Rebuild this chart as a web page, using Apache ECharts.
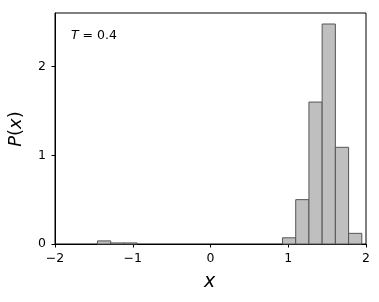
<!DOCTYPE html>
<html><head><meta charset="utf-8">
<script src="https://cdn.jsdelivr.net/npm/echarts@6/dist/echarts.min.js"></script>
<style>html,body{margin:0;padding:0;background:#fff}#c{width:379px;height:302px}</style>
</head><body><div id="c"></div>
<script>
const binEdges = [-1.454,-1.284,-1.114,-0.944,-0.774,-0.604,-0.434,-0.264,-0.094,0.076,0.246,0.416,0.586,0.756,0.926,1.096,1.266,1.436,1.606,1.776,1.946];
const density = [0.035,0.012,0.012,0,0,0,0,0,0,0,0,0,0,0,0.07,0.5,1.6,2.48,1.09,0.12];
const xTicks = [-2,-1,0,1,2];
const yTicks = [0,1,2];

const data = density.map((h,i)=>[binEdges[i], binEdges[i+1], h]);
const fmt = v => (v<0 ? '\u2212'+Math.abs(v) : String(v));
const font = 'DejaVu Sans';
const chart = echarts.init(document.getElementById('c'));
chart.setOption({
  animation:false,
  grid:{left:55,right:13,top:13,bottom:58,show:true,borderColor:'#000',borderWidth:1,backgroundColor:'transparent'},
  xAxis:{type:'value',min:-2,max:2,interval:1,
    axisLine:{show:true,onZero:false,lineStyle:{color:'#000',width:1}},
    axisTick:{show:true,inside:false,length:3.5,lineStyle:{color:'#000'}},
    splitLine:{show:false},
    axisLabel:{color:'#000',fontFamily:font,fontSize:12.5,margin:8,formatter:v=>xTicks.includes(v)?fmt(v):''}},
  yAxis:{type:'value',min:0,max:2.604,interval:1,
    axisLine:{show:true,onZero:false,lineStyle:{color:'#000',width:1}},
    axisTick:{show:true,inside:false,length:3.5,lineStyle:{color:'#000'}},
    splitLine:{show:false},
    axisLabel:{color:'#000',fontFamily:font,fontSize:12.5,margin:9,showMaxLabel:false,formatter:v=>yTicks.includes(v)?fmt(v):''}},
  series:[{type:'custom',data:data,
    renderItem:function(params,api){
      const h = api.value(2);
      if(h<=0) return null;
      const p0 = api.coord([api.value(0),0]);
      const p1 = api.coord([api.value(1),h]);
      return {type:'rect',shape:{x:p0[0],y:p1[1],width:p1[0]-p0[0],height:p0[1]-p1[1]},
        style:{fill:'#bfbfbf',stroke:'#555555',lineWidth:1}};
    },
    encode:{x:[0,1],y:2}}],
  graphic:[
    {type:'text',left:71,top:29,style:{text:'{i|T} = 0.4',fontFamily:font,fontSize:12.5,fill:'#000',
      rich:{i:{fontStyle:'italic',fontFamily:font,fontSize:12.5}}}},
    {type:'text',x:209.5,y:282,style:{text:'x',fontFamily:font,fontStyle:'italic',fontSize:19,fill:'#000',align:'center',verticalAlign:'middle'}},
    {type:'text',x:16,y:129,rotation:Math.PI/2,style:{text:'{i|P}({i|x})',fontFamily:font,fontSize:18,fill:'#000',align:'center',verticalAlign:'middle',
      rich:{i:{fontStyle:'italic',fontFamily:font,fontSize:18}}}}
  ]
});
</script></body></html>
